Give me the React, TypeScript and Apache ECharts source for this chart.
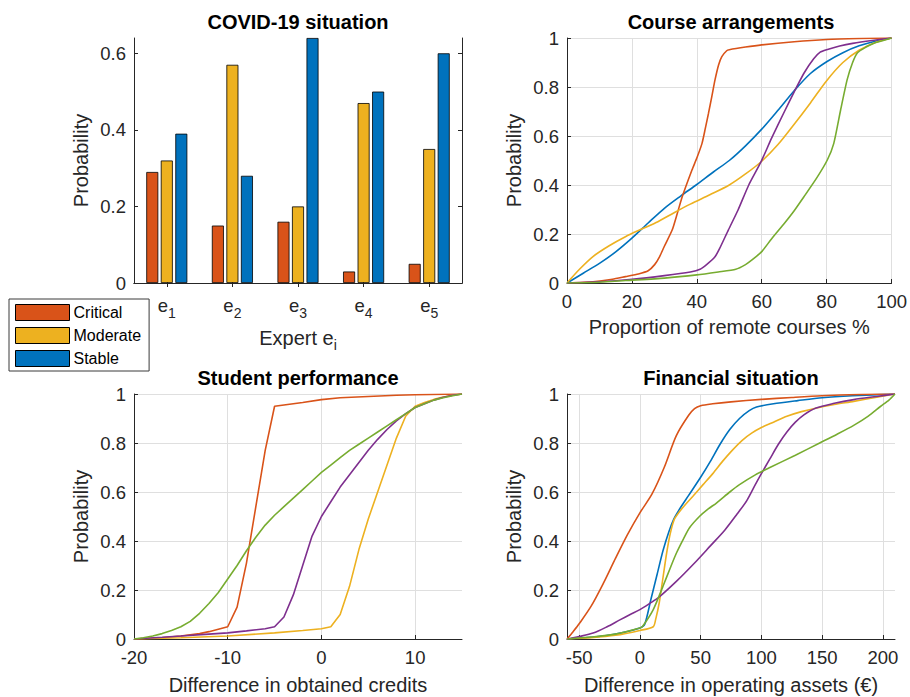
import React, { useEffect, useRef } from "react";
import * as echarts from "echarts";

// ---------- data ----------
const experts = ["1", "2", "3", "4", "5"];
const critical = [0.29, 0.15, 0.16, 0.03, 0.05];
const moderate = [0.32, 0.57, 0.2, 0.47, 0.35];
const stable = [0.39, 0.28, 0.64, 0.5, 0.6];

const covidTicks = [0, 0.2, 0.4, 0.6];
const studentTicks = [-20, -10, 0, 10];
const financeTicks = [-50, 0, 50, 100, 150, 200];

// Course arrangements (proportion of remote courses %)
const courseE1 = [[0,0],[5,0.04],[10,0.08],[15,0.127],[20,0.183],[25,0.245],[30,0.305],[35,0.355],[40,0.402],[45,0.452],[50,0.5],[55,0.56],[60,0.628],[65,0.705],[70,0.785],[75,0.855],[80,0.903],[85,0.94],[90,0.968],[95,0.987],[100,1]];
const courseE2 = [[0,0],[8,0.005],[14,0.015],[18,0.026],[22,0.037],[25,0.05],[27,0.075],[28.5,0.107],[30,0.15],[32.4,0.216],[34,0.285],[35.5,0.352],[38.5,0.461],[40,0.51],[41.6,0.57],[42.6,0.63],[43.6,0.693],[44.6,0.76],[45.6,0.829],[46.7,0.89],[47.7,0.924],[49.2,0.948],[50,0.952],[55,0.963],[60,0.972],[70,0.985],[80,0.994],[90,0.998],[100,1]];
const courseE3 = [[0,0],[4,0.058],[8,0.108],[13,0.152],[18,0.189],[23,0.22],[28,0.25],[33,0.287],[38,0.322],[44,0.36],[50,0.4],[55,0.445],[60,0.497],[65,0.565],[70,0.648],[75,0.735],[80,0.826],[85,0.9],[90,0.95],[95,0.982],[100,1]];
const courseE4 = [[0,0],[10,0.005],[20,0.015],[30,0.03],[38,0.045],[41,0.056],[43,0.075],[45.6,0.107],[47,0.14],[49.7,0.216],[52.7,0.298],[56,0.4],[59.8,0.495],[63,0.59],[67,0.7],[70,0.78],[73,0.856],[76,0.915],[78,0.942],[80,0.952],[84,0.967],[88,0.978],[94,0.99],[100,1]];
const courseE5 = [[0,0],[10,0.003],[18,0.01],[30,0.02],[40,0.033],[46.6,0.045],[52,0.056],[55,0.075],[57,0.094],[60,0.128],[63,0.18],[67,0.244],[70,0.295],[73,0.352],[77,0.43],[80.2,0.502],[82.2,0.57],[84.3,0.706],[86.3,0.829],[88,0.9],[89.5,0.94],[92,0.962],[94.4,0.978],[100,1]];

// Student performance (difference in obtained credits)
const studentE2 = [[-20,0],[-17,0.005],[-15,0.012],[-13,0.022],[-12,0.03],[-11,0.04],[-10,0.05],[-9,0.13],[-8,0.31],[-7,0.54],[-6,0.77],[-5,0.95],[-4,0.955],[-2,0.965],[0,0.977],[2,0.985],[5,0.99],[8,0.995],[10,0.997],[15,1]];
const studentE3 = [[-20,0],[-15,0.005],[-10,0.012],[-5,0.025],[-2,0.035],[0,0.042],[1,0.05],[2,0.1],[3,0.215],[4,0.365],[5,0.49],[6,0.6],[7,0.71],[8,0.82],[9,0.91],[10,0.95],[11,0.965],[12,0.978],[13,0.988],[14,0.995],[15,1]];
const studentE4 = [[-20,0],[-17,0.007],[-15,0.012],[-12,0.02],[-10,0.025],[-8,0.033],[-6,0.042],[-5,0.05],[-4,0.09],[-3,0.18],[-2,0.3],[-1,0.42],[0,0.5],[1,0.56],[2,0.62],[3,0.67],[4,0.72],[5,0.77],[6,0.815],[7,0.855],[8,0.89],[9,0.92],[10,0.945],[11,0.96],[12,0.975],[13,0.987],[14,0.995],[15,1]];
const studentE5 = [[-20,0],[-19,0.005],[-18,0.012],[-17,0.022],[-16,0.035],[-15,0.05],[-14,0.072],[-13,0.105],[-12,0.145],[-11,0.19],[-10,0.245],[-9,0.3],[-8,0.36],[-7,0.415],[-6,0.465],[-5,0.505],[-4,0.54],[-3,0.575],[-2,0.61],[-1,0.645],[0,0.68],[1,0.71],[2,0.74],[3,0.77],[4,0.795],[5,0.82],[6,0.845],[7,0.87],[8,0.895],[9,0.92],[10,0.945],[11,0.96],[12,0.975],[13,0.985],[14,0.993],[15,1]];

// Financial situation (difference in operating assets, €)
const financeE1 = [[-60,0],[-45,0.005],[-30,0.012],[-15,0.025],[0,0.045],[4,0.06],[9,0.16],[14,0.26],[19,0.36],[24,0.44],[28,0.49],[32,0.525],[40,0.585],[50,0.66],[58,0.725],[66,0.795],[74,0.855],[82,0.9],[90,0.932],[96,0.947],[110,0.96],[130,0.973],[150,0.985],[175,0.993],[210,1]];
const financeE2 = [[-60,0],[-55,0.03],[-50,0.062],[-40,0.135],[-30,0.228],[-20,0.33],[-10,0.428],[0,0.515],[10,0.592],[20,0.7],[30,0.83],[40,0.912],[45,0.94],[50,0.952],[60,0.96],[75,0.968],[100,0.978],[125,0.986],[150,0.993],[180,0.998],[210,1]];
const financeE3 = [[-60,0],[-40,0.005],[-20,0.015],[0,0.035],[11,0.05],[13,0.08],[16,0.15],[19,0.25],[22,0.35],[25,0.43],[28.5,0.49],[35,0.535],[44,0.585],[52,0.63],[60,0.675],[68,0.725],[76,0.77],[84,0.81],[92,0.84],[100,0.863],[110,0.885],[121,0.909],[133,0.928],[145.5,0.943],[160,0.957],[176,0.97],[195,0.987],[210,1]];
const financeE4 = [[-60,0],[-50,0.01],[-38.5,0.024],[-27,0.05],[-16.5,0.078],[-8,0.1],[0,0.12],[8,0.145],[16,0.172],[30,0.235],[44,0.305],[58,0.38],[70,0.445],[80,0.51],[88,0.565],[95,0.63],[100,0.675],[107,0.735],[114,0.795],[121,0.845],[128,0.885],[135,0.915],[145,0.943],[160,0.962],[176,0.977],[195,0.99],[210,1]];
const financeE5 = [[-60,0],[-40,0.008],[-20,0.02],[0,0.045],[2,0.05],[11,0.12],[19,0.215],[25,0.29],[30,0.35],[36,0.41],[41,0.455],[49,0.5],[56,0.53],[63,0.555],[74,0.6],[82,0.63],[95,0.67],[107,0.7],[128,0.75],[148,0.8],[162,0.835],[176,0.872],[188,0.91],[198,0.949],[205,0.975],[210,1]];

// ---------- styles ----------
const FONT = "'Liberation Sans', Arial, Helvetica, sans-serif";
const AX = "#262626";
const GRID = "#dfdfdf";
const C_BLUE = "#0072BD";
const C_ORANGE = "#D95319";
const C_YELLOW = "#EDB120";
const C_PURPLE = "#7E2F8E";
const C_GREEN = "#77AC30";

const tickLabel = { color: AX, fontSize: 18.5, fontFamily: FONT };
const nameStyle = { color: AX, fontSize: 20, fontFamily: FONT };

function valueX(gridIndex: number, min: number, max: number, name: string, extra: any = {}) {
  return {
    type: "value",
    gridIndex,
    min,
    max,
    name,
    nameLocation: "middle",
    nameGap: 34,
    nameTextStyle: nameStyle,
    axisLine: { show: true, onZero: false, lineStyle: { color: AX, width: 1 } },
    axisTick: { show: true, inside: true, length: 4, lineStyle: { color: AX } },
    axisLabel: { ...tickLabel, margin: 9 },
    splitLine: { show: true, lineStyle: { color: GRID, width: 1 } },
    ...extra,
  };
}

function probY(gridIndex: number) {
  return {
    type: "value",
    gridIndex,
    min: 0,
    max: 1,
    interval: 0.2,
    name: "Probability",
    nameLocation: "middle",
    nameGap: 43,
    nameTextStyle: nameStyle,
    axisLine: { show: true, onZero: false, lineStyle: { color: AX, width: 1 } },
    axisTick: { show: true, inside: true, length: 4, lineStyle: { color: AX } },
    axisLabel: { ...tickLabel, margin: 8 },
    splitLine: { show: true, lineStyle: { color: GRID, width: 1 } },
  };
}

function line(name: string, data: number[][], color: string, xi: number, yi: number, smooth: any) {
  return {
    type: "line",
    name,
    data,
    xAxisIndex: xi,
    yAxisIndex: yi,
    showSymbol: false,
    symbol: "none",
    smooth,
    lineStyle: { color, width: 1.6 },
    itemStyle: { color },
  };
}

function bar(name: string, data: number[], color: string) {
  return {
    type: "bar",
    name,
    data,
    xAxisIndex: 0,
    yAxisIndex: 0,
    barWidth: 12,
    barGap: "21%",
    itemStyle: { color, borderColor: "#000", borderWidth: 0.8 },
  };
}

export default function App() {
  const ref = useRef<HTMLDivElement>(null);
  useEffect(() => {
    if (!ref.current) return;
    const chart = echarts.init(ref.current, null, { renderer: "svg" });
    const titleStyle = { color: "#000", fontSize: 20, fontWeight: "bold", fontFamily: FONT };
    const option: any = {
      animation: false,
      backgroundColor: "#fff",
      title: [
        { text: "COVID-19 situation", left: 298, top: 12, textAlign: "center", textStyle: titleStyle, padding: 0 },
        { text: "Course arrangements", left: 731, top: 12, textAlign: "center", textStyle: titleStyle, padding: 0 },
        { text: "Student performance", left: 298, top: 368, textAlign: "center", textStyle: titleStyle, padding: 0 },
        { text: "Financial situation", left: 731, top: 368, textAlign: "center", textStyle: titleStyle, padding: 0 },
      ],
      legend: {
        data: ["Critical", "Moderate", "Stable"],
        orient: "vertical",
        left: 9,
        top: 299,
        itemWidth: 54,
        itemHeight: 16,
        itemGap: 6,
        padding: [5, 8, 4, 6],
        borderColor: "#3a3a3a",
        borderWidth: 1,
        borderRadius: 0,
        backgroundColor: "#fff",
        icon: "rect",
        itemStyle: { borderColor: "#000", borderWidth: 1 },
        textStyle: { fontSize: 16, color: "#000", fontFamily: FONT, padding: [0, 0, 0, -1] },
      },
      grid: [
        { left: 134, top: 38, width: 328, height: 245, show: false },
        { left: 567, top: 38, width: 328, height: 245, show: false },
        { left: 134, top: 394, width: 328, height: 245, show: false },
        { left: 567, top: 394, width: 328, height: 245, show: false },
      ],
      xAxis: [
        {
          type: "category",
          gridIndex: 0,
          data: experts,
          name: "{n|Expert e}{s|i}",
          nameLocation: "middle",
          nameGap: 40,
          nameTextStyle: {
            ...nameStyle,
            rich: {
              n: { fontSize: 20, color: AX, fontFamily: FONT },
              s: { fontSize: 14, color: AX, fontFamily: FONT, padding: [15, 0, 0, 0] },
            },
          },
          axisLine: { show: true, lineStyle: { color: AX, width: 1 } },
          axisTick: { show: true, inside: true, length: 4, alignWithLabel: true, lineStyle: { color: AX } },
          axisLabel: {
            margin: 8,
            formatter: (v: string) => `{e|e}{s|${v}}`,
            rich: {
              e: { fontSize: 18.5, color: AX, fontFamily: FONT },
              s: { fontSize: 14, color: AX, fontFamily: FONT, padding: [15, 0, 0, 0] },
            },
          },
          splitLine: { show: false },
        },
        {
          type: "category",
          gridIndex: 0,
          position: "top",
          data: experts,
          axisLine: { show: true, lineStyle: { color: AX, width: 1 } },
          axisTick: { show: true, inside: true, length: 4, alignWithLabel: true, lineStyle: { color: AX } },
          axisLabel: { show: false },
          splitLine: { show: false },
        },
        valueX(1, 0, 100, "Proportion of remote courses %", { interval: 20 }),
        valueX(2, -20, 15, "Difference in obtained credits", {
          axisTick: { show: true, inside: true, length: 4, lineStyle: { color: AX }, customValues: studentTicks },
          axisLabel: { ...tickLabel, margin: 9, customValues: studentTicks },
          nameGap: 36,
        }),
        valueX(3, -60, 210, "Difference in operating assets (€)", {
          axisTick: { show: true, inside: true, length: 4, lineStyle: { color: AX }, customValues: financeTicks },
          axisLabel: { ...tickLabel, margin: 9, customValues: financeTicks },
          nameGap: 36,
        }),
      ],
      yAxis: [
        {
          type: "value",
          gridIndex: 0,
          min: 0,
          max: 0.64,
          name: "Probability",
          nameLocation: "middle",
          nameGap: 43,
          nameTextStyle: nameStyle,
          axisLine: { show: true, onZero: false, lineStyle: { color: AX, width: 1 } },
          axisTick: { show: true, inside: true, length: 4, lineStyle: { color: AX }, customValues: covidTicks },
          axisLabel: { ...tickLabel, margin: 8, customValues: covidTicks },
          splitLine: { show: false },
        },
        {
          type: "value",
          gridIndex: 0,
          position: "right",
          min: 0,
          max: 0.64,
          axisLine: { show: true, onZero: false, lineStyle: { color: AX, width: 1 } },
          axisTick: { show: true, inside: true, length: 4, lineStyle: { color: AX }, customValues: covidTicks },
          axisLabel: { show: false },
          splitLine: { show: false },
        },
        probY(1),
        probY(2),
        probY(3),
      ],
      series: [
        bar("Critical", critical, C_ORANGE),
        bar("Moderate", moderate, C_YELLOW),
        bar("Stable", stable, C_BLUE),

        line("course e1", courseE1, C_BLUE, 2, 2, 0.3),
        line("course e2", courseE2, C_ORANGE, 2, 2, 0.2),
        line("course e3", courseE3, C_YELLOW, 2, 2, 0.3),
        line("course e4", courseE4, C_PURPLE, 2, 2, 0.2),
        line("course e5", courseE5, C_GREEN, 2, 2, 0.2),

        line("student e2", studentE2, C_ORANGE, 3, 3, false),
        line("student e3", studentE3, C_YELLOW, 3, 3, false),
        line("student e4", studentE4, C_PURPLE, 3, 3, false),
        line("student e5", studentE5, C_GREEN, 3, 3, false),

        line("finance e1", financeE1, C_BLUE, 4, 4, 0.25),
        line("finance e2", financeE2, C_ORANGE, 4, 4, 0.3),
        line("finance e3", financeE3, C_YELLOW, 4, 4, 0.25),
        line("finance e4", financeE4, C_PURPLE, 4, 4, 0.3),
        line("finance e5", financeE5, C_GREEN, 4, 4, 0.25),
      ],
    };
    chart.setOption(option);
    return () => chart.dispose();
  }, []);
  return (
    <div
      ref={ref}
      style={{ position: "fixed", left: 0, top: 0, width: 910, height: 697, background: "#fff" }}
    />
  );
}
